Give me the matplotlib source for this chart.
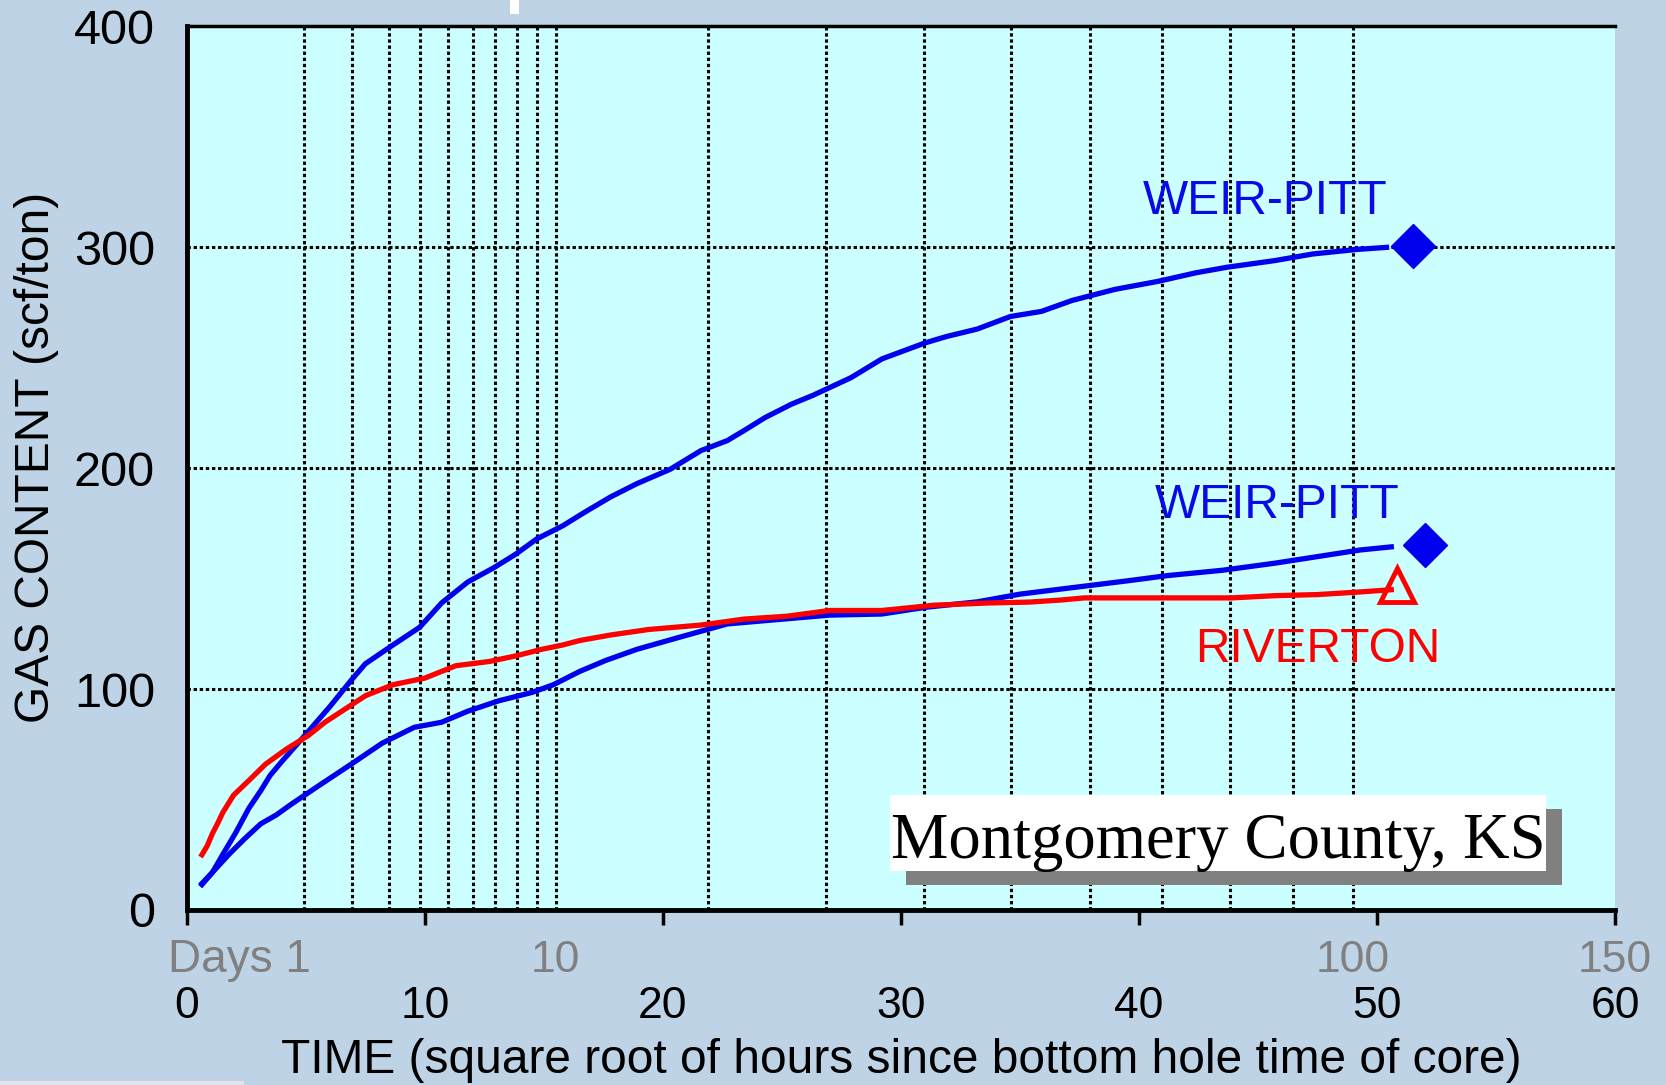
import numpy as np
import matplotlib.pyplot as plt
import matplotlib.transforms as mtransforms
from matplotlib.patches import Rectangle

plt.rcParams['font.family'] = ['Liberation Sans', 'DejaVu Sans']

# upper Weir-Pitt desorption curve (x = sqrt hours, y = scf/ton)
wp1_x = [0.63, 1.07, 1.5, 2.05, 2.6, 3.1, 3.5, 3.97, 4.87, 6.0, 6.9, 7.5, 8.66, 9.78,
         10.7, 11.8, 12.9, 13.8, 14.7, 15.8, 16.7, 17.8, 18.9, 20.3, 21.6, 22.7, 23.4,
         24.3, 25.4, 26.3, 27.9, 29.2, 31.0, 31.9, 33.2, 34.6, 35.9, 37.2, 39.0, 40.8,
         42.4, 43.7, 45.7, 47.3, 49.1, 50.4]
wp1_y = [11.5, 17, 25, 35, 46, 54, 61, 67, 78, 92, 104, 111.5, 120, 128,
         139, 148.5, 155, 161, 168, 174, 180, 187, 193, 199.5, 208, 212.5, 217,
         223, 229, 233, 241, 249.5, 256.7, 259.6, 263, 268.7, 271, 276, 281, 284.6,
         288.5, 291, 294, 297, 299, 300]

# lower Weir-Pitt curve
wp2_x = [0.63, 1.07, 1.75, 2.4, 3.1, 3.75, 4.4, 5.5, 6.9, 8.2, 9.55, 10.7, 11.8, 13.1,
         14.5, 15.4, 16.5, 17.6, 18.9, 20.7, 22.7, 24.3, 27.0, 29.2, 31.0, 33.2, 35.0,
         37.7, 39.5, 41.2, 43.5, 45.7, 47.5, 49.3, 50.6]
wp2_y = [12, 17, 25, 32, 39, 43, 48, 56, 66, 75.5, 82.7, 85, 90, 94.7,
         98.5, 102, 108, 113, 118, 123.5, 129.5, 131, 133.5, 134, 137, 139.5, 143,
         146.6, 149, 151.4, 153.8, 157, 160, 163, 164.4]

# Riverton curve
riv_x = [0.63, 0.85, 1.07, 1.3, 1.5, 1.96, 2.6, 3.3, 4.2, 5.1, 5.8, 6.65, 7.5, 8.66,
         10.0, 11.3, 12.7, 13.8, 14.9, 15.8, 16.5, 17.8, 19.4, 21.6, 23.4, 25.2, 27.0,
         29.2, 31.4, 33.7, 35.4, 36.8, 37.7, 39.5, 41.2, 43.9, 45.7, 47.5, 49.3, 50.6]
riv_y = [25, 29, 34.6, 39.4, 44, 52, 58.6, 66, 73, 79, 85, 91, 97, 102,
         105, 110.6, 112.5, 115, 118, 120, 122, 124.5, 127, 129, 131.7, 133, 135.6,
         135.6, 138, 139, 139.4, 140.4, 141.3, 141.3, 141.3, 141.3, 142.3, 142.8, 144, 145]

# end markers (total gas content)
end_wp1 = (51.5, 300.5)
end_wp2 = (52.0, 165.4)
end_riv = (50.85, 147)

# day gridlines and labels
grid_days = [1, 2, 3, 4, 5, 6, 7, 8, 9, 10, 20, 30, 40, 50, 60, 70, 80, 90, 100]
label_days = [1, 10, 100, 150]
label_day_text = ['Days 1', '10', '100', '150']

BG = '#bed4e6'
fig = plt.figure(figsize=(16.66, 10.85), dpi=100, facecolor=BG)
ax = fig.add_axes([0.1122, 0.1613, 0.8572, 0.8143])
ax.set_facecolor('#ccffff')

dots = (0, (1.1, 0.9))
for d in grid_days:
    ax.axvline(np.sqrt(24 * d), color='black', lw=2.2, ls=dots, zorder=1)
for yv in [100, 200, 300]:
    ax.axhline(yv, color='black', lw=2.2, ls=dots, zorder=1)

ax.plot(wp1_x, wp1_y, color='#0000ee', lw=3.8, zorder=3)
ax.plot(wp2_x, wp2_y, color='#0000ee', lw=3.8, zorder=3)
ax.plot(riv_x, riv_y, color='#ff0000', lw=3.8, zorder=3)
ax.plot(*end_wp1, marker='D', ms=22, color='#0000ee', zorder=4)
ax.plot(*end_wp2, marker='D', ms=22, color='#0000ee', zorder=4)
ax.plot(*end_riv, marker='^', ms=25, mfc='none', mec='#ff0000', mew=3.5, zorder=4)

ax.text(45.3, 320.7, 'WEIR-PITT', color='#0a0ae6', fontsize=34.5, ha='center', va='center')
ax.text(45.8, 183, 'WEIR-PITT', color='#0a0ae6', fontsize=34.5, ha='center', va='center')
ax.text(47.5, 117.8, 'RIVERTON', color='#ff0000', fontsize=34.5, ha='center', va='center')

# county label box with drop shadow
ax.add_patch(Rectangle((0.5038, 0.0283), 0.4591, 0.0863, transform=ax.transAxes,
                       facecolor='#808080', edgecolor='none', zorder=5))
ax.add_patch(Rectangle((0.4926, 0.0441), 0.4591, 0.0863, transform=ax.transAxes,
                       facecolor='white', edgecolor='none', zorder=6))
ax.text(0.7222, 0.0583, 'Montgomery County, KS', transform=ax.transAxes,
        family='Liberation Serif', fontsize=46.5, ha='center', va='baseline', zorder=7)

ax.set_xlim(0, 60)
ax.set_ylim(0, 400)
ax.set_xticks(range(0, 61, 10))
ax.set_yticks(range(0, 401, 100))
ax.set_yticks([0, 400], minor=True)
ax.tick_params(axis='x', direction='out', length=11, width=2.5, pad=44, labelsize=32)
ax.tick_params(axis='y', which='major', length=0, pad=23, labelsize=35)
ax.tick_params(axis='y', which='minor', length=13, width=2.5)

for side in ['left', 'bottom']:
    ax.spines[side].set_linewidth(3.5)
ax.spines['top'].set_linewidth(2.5)
ax.spines['right'].set_visible(False)

# day labels in gray above the sqrt-hour tick labels
trans = mtransforms.blended_transform_factory(ax.transData, ax.transAxes)
for d, t in zip(label_days, label_day_text):
    if t.startswith('Days'):
        ax.annotate(t, xy=(np.sqrt(24 * d), -0.0702), xycoords=trans, xytext=(5, 0),
                    textcoords='offset points', ha='right', va='baseline',
                    color='#808080', fontsize=33, annotation_clip=False)
    else:
        ax.text(np.sqrt(24 * d), -0.0702, t, transform=trans, ha='center',
                va='baseline', color='#808080', fontsize=32)

ax.set_xlabel('TIME (square root of hours since bottom hole time of core)', fontsize=34.5)
ax.xaxis.set_label_coords(0.5, -0.145)
ax.set_ylabel('GAS CONTENT (scf/ton)', fontsize=34.5, va='center')
ax.yaxis.set_label_coords(-0.105, 0.5127)

# small white marks along the frame edge
fig.add_artist(Rectangle((510 / 1666, 1 - 14 / 1085), 9 / 1666, 14 / 1085,
                         transform=fig.transFigure, facecolor='white', edgecolor='none'))
fig.add_artist(Rectangle((0, 0), 244 / 1666, 4 / 1085, transform=fig.transFigure,
                         facecolor='#e4e4ec', edgecolor='none'))

fig.savefig('out.png', dpi=100, facecolor=BG)
